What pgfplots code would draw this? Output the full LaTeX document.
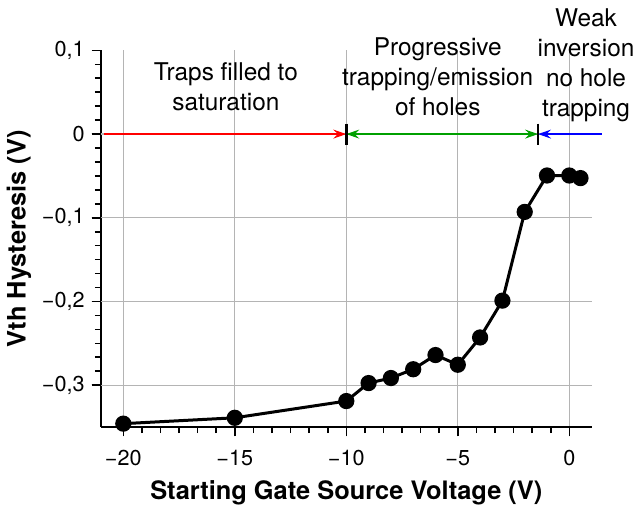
\documentclass[border=0pt]{standalone}
\usepackage{fontspec}
\setmainfont{TeX Gyre Heros}
\usepackage{pgfplots}
\pgfplotsset{compat=1.18}
\usetikzlibrary{arrows.meta}
\definecolor{gridgray}{RGB}{180,180,180}
\definecolor{arrgreen}{RGB}{0,160,0}
\begin{document}
\begin{tikzpicture}[font=\fontsize{10.8}{13}\selectfont]
\begin{axis}[
  scale only axis,
  width=245.3pt, height=188.3pt,
  xmin=-21, xmax=1, ymin=-0.35, ymax=0.1,
  axis x line*=bottom, axis y line*=left,
  axis line style={line width=0.9pt},
  every tick/.style={black, line width=0.8pt},
  tick align=outside,
  major tick length=4.7pt, minor tick length=3pt,
  xtick={-20,-15,-10,-5,0},
  xticklabels={−20,−15,−10,−5,0},
  ytick={-0.3,-0.2,-0.1,0,0.1},
  yticklabels={{−0,3},{−0,2},{−0,1},0,{0,1}},
  minor x tick num=5, minor y tick num=5,
  xmajorgrids=true,
  extra y ticks={-0.3,-0.2,-0.1,0},
  extra y tick labels={},
  extra y tick style={ymajorgrids=true},
  major grid style={gridgray, line width=0.6pt},
  xticklabel style={yshift=-3.5pt},
  clip=false,
  xlabel={\bfseries\fontsize{12.7}{15}\selectfont Starting Gate Source Voltage (V)},
  ylabel={\bfseries\fontsize{12.7}{15}\selectfont Vth Hysteresis (V)},
  xlabel style={at={(axis description cs:0.5,-0.175)}, anchor=center},
  ylabel style={at={(axis description cs:-0.167,0.5)}, anchor=center},
]
\coordinate (O) at (rel axis cs:0,0);
% region arrows
\addplot[red, line width=0.65pt, -{Stealth[length=6.5pt,width=4.5pt,inset=2.3pt]}] coordinates {(-20.85,0) (-10,0)};
\addplot[arrgreen, line width=0.65pt, {Stealth[length=6.5pt,width=4.5pt,inset=2.3pt]}-{Stealth[length=6.5pt,width=4.5pt,inset=2.3pt]}] coordinates {(-10,0) (-1.4,0)};
\addplot[blue, line width=0.65pt, -{Stealth[length=6.5pt,width=4.5pt,inset=2.3pt]}] coordinates {(1.45,0) (-1.4,0)};
\addplot[black, line width=1.4pt] coordinates {(-10,0.0125) (-10,-0.0125)};
\addplot[black, line width=1.4pt] coordinates {(-1.4,0.0125) (-1.4,-0.0125)};
% data
\addplot[black, line width=1.5pt, mark=*, mark size=3.3pt, mark options={solid}] coordinates {
(-20,-0.346) (-15,-0.339) (-10,-0.319) (-9,-0.2975) (-8,-0.2915) (-7,-0.281)
(-6,-0.264) (-5,-0.2756) (-4,-0.243) (-3,-0.199) (-2,-0.093) (-1,-0.0495)
(0,-0.0495) (0.5,-0.0526)};
% annotations
\node[anchor=north, align=center, inner sep=0pt, font=\fontsize{12.2}{15}\selectfont] at (axis cs:-15.4,0.086) {Traps filled to\\saturation};
\node[anchor=north, align=center, inner sep=0pt, font=\fontsize{12.2}{15}\selectfont] at (axis cs:-5.9,0.116) {Progressive\\trapping/emission\\of holes};
\node[anchor=north, align=center, inner sep=0pt, font=\fontsize{12.2}{15}\selectfont] at (axis cs:0.75,0.150) {Weak\\inversion\\no hole\\trapping};
\end{axis}
\pgfresetboundingbox
\path ([shift={(-50.5pt,-40.5pt)}]O) rectangle ([shift={(267pt,213.5pt)}]O);
\end{tikzpicture}
\end{document}
